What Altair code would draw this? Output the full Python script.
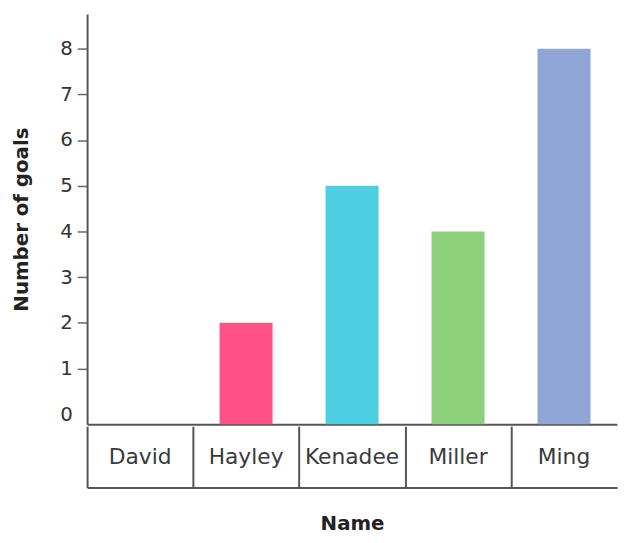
import altair as alt
import pandas as pd

names = ["David", "Hayley", "Kenadee", "Miller", "Ming"]
goals = [0, 2, 5, 4, 8]
colors = ["#F2A0B8", "#FF5289", "#4DCFE1", "#8DD07B", "#8FA4D7"]
y_ticks = [0, 1, 2, 3, 4, 5, 6, 7, 8]
y_min, y_max = -0.22, 8.76

df = pd.DataFrame({"Name": names, "Goals": goals})

W = 536
FONT = "DejaVu Sans"
LINE = "#555555"

x_scale = alt.Scale(domain=names, paddingInner=0, paddingOuter=0)

bars = alt.Chart(df).transform_filter("datum.Goals > 0").mark_bar(
    width=alt.RelativeBandSize(0.5)
).encode(
    x=alt.X("Name:N", scale=x_scale, sort=names,
            axis=alt.Axis(labels=False, ticks=False, title=None,
                          domainColor=LINE, domainWidth=2)),
    y=alt.Y("Goals:Q",
            scale=alt.Scale(domain=[y_min, y_max], nice=False, zero=False),
            axis=alt.Axis(values=y_ticks, title="Number of goals",
                          titleFont=FONT, titleFontSize=20, titleFontWeight="bold",
                          titleColor="#222222", titlePadding=29,
                          labelFont=FONT, labelFontSize=20, labelColor="#333333",
                          labelPadding=5, tickSize=10, tickColor="#666666",
                          tickWidth=1.5,
                          tickOpacity={"condition": {"test": "datum.value === 0", "value": 0}, "value": 1},
                          domainColor=LINE, domainWidth=2, grid=False)),
    y2=alt.datum(y_min),
    color=alt.Color("Name:N", scale=alt.Scale(domain=names, range=colors), legend=None),
).properties(width=W, height=415, view=alt.ViewBackground(stroke="transparent"))

table = alt.Chart(df).mark_text(font=FONT, fontSize=22, color="#3a3a3a").encode(
    x=alt.X("Name:N", scale=x_scale, sort=names,
            axis=alt.Axis(labels=False, ticks=False, title="Name", tickBand="extent",
                          grid=True, gridColor=LINE, gridWidth=2,
                          gridOpacity={"condition": {"test": "datum.index === 1", "value": 0}, "value": 1},
                          domainColor=LINE, domainWidth=2,
                          titleFont=FONT, titleFontSize=20, titleFontWeight="bold",
                          titleColor="#222222", titlePadding=26)),
    text="Name:N",
).properties(width=W, height=62, view=alt.ViewBackground(stroke="transparent"))

chart = alt.vconcat(bars, table, spacing=0).properties(
    padding={"left": 2, "top": 2, "right": 0, "bottom": 0}
).configure(font=FONT)

chart.save("out.html", embed_options={"renderer": "svg", "actions": False})
